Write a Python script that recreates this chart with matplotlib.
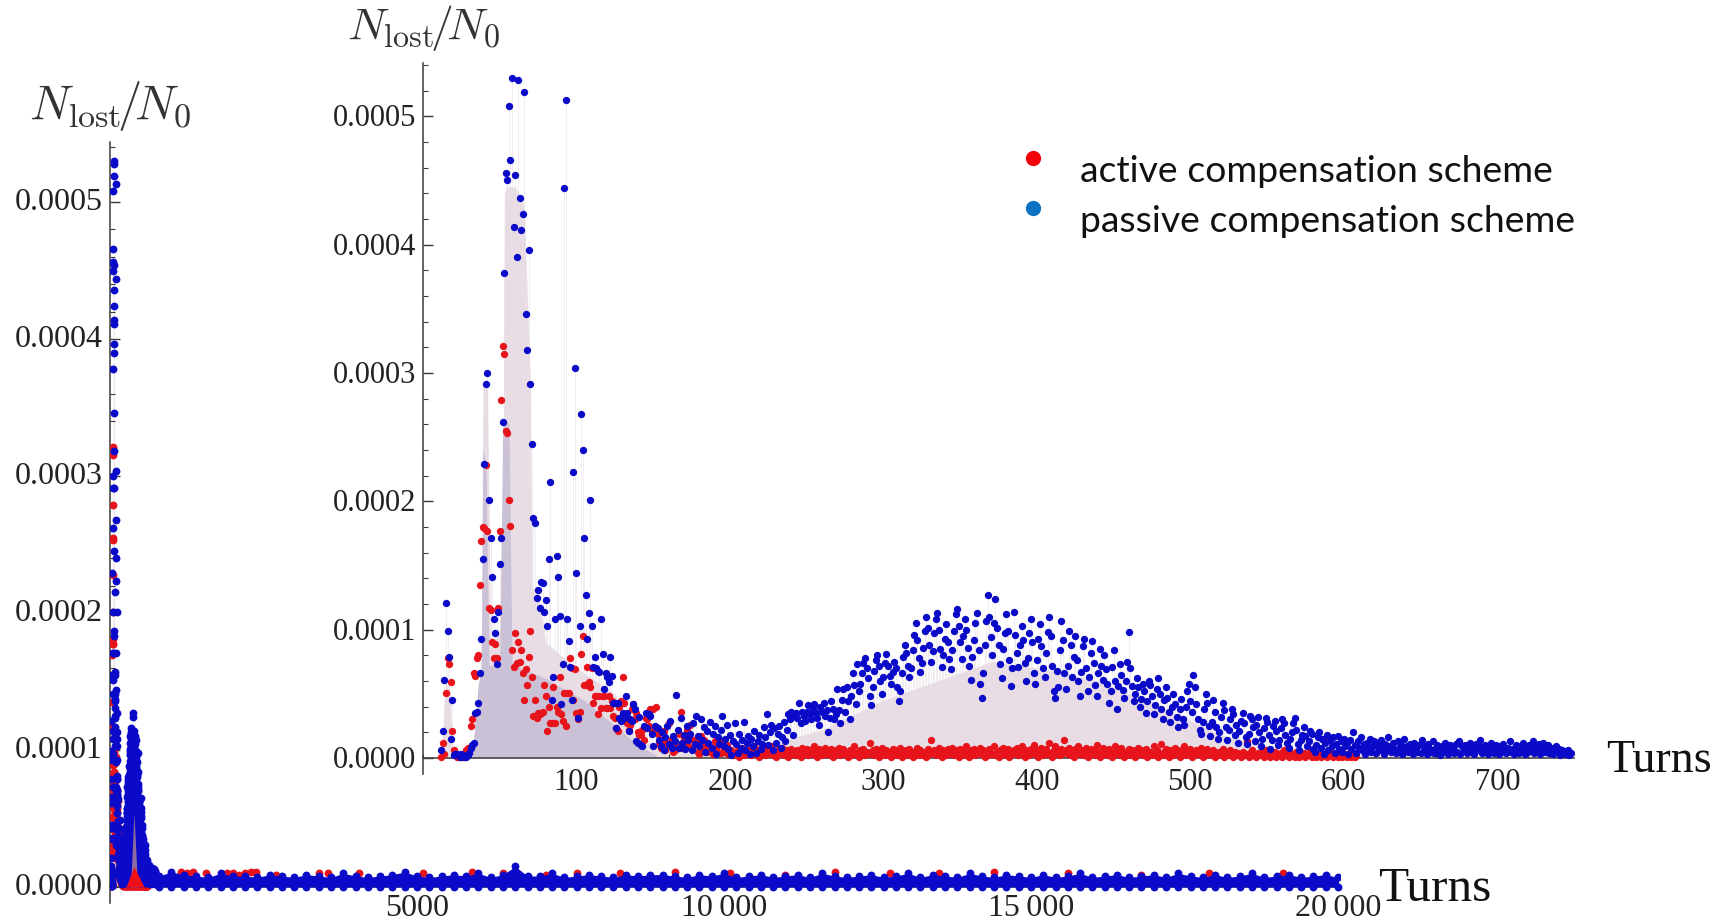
import matplotlib
matplotlib.use("Agg")
import matplotlib.pyplot as plt
import numpy as np
from matplotlib.lines import Line2D
from matplotlib.ticker import MultipleLocator, FuncFormatter
from matplotlib.transforms import ScaledTranslation

W, H = 1729, 921
plt.rcParams['font.family'] = ['Liberation Serif', 'DejaVu Serif']
plt.rcParams['mathtext.fontset'] = 'cm'

FIRST_TURN = 12
# loss fractions per turn in units of 1e-6, first turn = 12
blue_vals = [6,21,61,121,99,79,15,45,
 2,3,3,2,1,3,2,1,1,2,4,8,10,12,35,36,43,66,93,155,
 229,291,300,201,171,141,108,97,73,114,
 151,171,262,378,456,450,508,466,530,414,
 454,390,528,436,411,424,519,346,318,396,
 291,245,187,183,125,131,117,137,136,114,
 123,103,155,215,45,63,108,157,141,111,
 42,73,444,513,108,91,71,45,223,304,
 144,31,103,268,240,171,127,93,113,201,
 103,71,79,70,68,67,108,81,54,66,
 63,59,79,64,43,43,23,43,31,29,
 35,31,48,35,21,30,29,42,38,13,
 12,32,10,9,25,35,23,34,33,19,
 9,25,24,23,
 14,9,20,6,16,25,11,29,8,17,
 13,49,22,8,31,12,18,7,25,14,
 19,6,27,11,33,17,9,30,14,24,
 5,21,12,28,8,19,25,3,16,11,
 22,33,9,15,26,7,18,2,13,27,
 11,4,19,8,14,28,6,12,17,3,
 15,9,21,4,13,18,7,11,24,16,
 34,10,20,26,6,23,12,19,25,8,
 16,28,13,22,34,30,36,18,33,35,
 31,43,27,36,33,29,36,41,34,30,
 38,42,35,31,26,40,36,43,33,37,
 20,31,44,38,30,34,54,37,27,45,
 54,36,55,44,30,48,66,57,42,73,
 52,58,66,74,78,70,62,48,41,55,
 68,76,80,72,60,50,63,74,81,72,
 64,58,67,75,70,55,44,52,66,79,
 88,82,72,63,70,84,96,105,92,78,
 67,74,86,99,110,101,88,75,83,97,
 108,113,100,85,71,80,93,104,90,77,
 69,84,99,112,116,103,90,77,95,108,
 100,86,72,61,79,92,105,113,84,58,
 47,66,88,107,127,110,94,80,105,124,
 101,88,73,62,85,97,112,99,76,56,
 70,114,96,82,71,88,103,92,74,60,
 78,97,108,90,66,58,76,93,104,87,
 70,63,82,98,110,95,72,52,47,68,
 55,84,107,92,66,54,72,99,88,63,
 79,95,76,60,48,67,87,93,70,52,
 63,82,91,74,57,48,66,85,72,61,
 80,69,58,43,52,71,84,60,38,56,
 73,65,53,47,60,75,98,70,56,44,
 50,62,55,40,46,58,52,35,44,60,
 57,48,34,41,54,62,50,38,30,45,
 55,47,36,28,40,50,42,32,24,38,
 46,30,26,40,52,58,44,36,65,55,
 42,30,22,19,28,38,50,43,25,17,
 28,45,36,24,15,20,32,43,37,24,
 14,22,30,38,34,18,26,12,21,29,
 35,27,16,11,19,33,30,24,13,26,
 32,20,9,15,23,31,28,18,7,14,
 25,29,21,10,14,23,30,27,18,12,
 8,15,20,27,31,22,11,6,14,18,
 24,17,9,13,21,19,7,5,10,16,
 20,8,15,3,12,18,6,14,9,16,
 4,11,17,7,13,5,15,9,12,3,
 14,7,20,10,4,13,8,16,6,11,
 3,12,7,15,5,9,13,4,10,6,
 14,8,3,11,6,16,9,5,12,7,
 4,13,8,10,3,15,6,9,5,11,
 7,3,12,8,5,10,4,14,6,9,
 3,11,7,5,13,4,8,10,6,2,
 9,5,12,7,3,10,6,8,4,11,
 5,13,3,9,6,10,4,7,12,5,
 8,3,11,6,9,14,4,7,10,5,
 3,8,12,6,4,10,7,3,9,5,
 11,6,4,8,13,5,7,3,10,6,
 4,9,6,12,3,8,5,10,7,13,
 4,9,6,11,3,8,12,5,7,10,
 4,8,3,6,9,5,7,2,6,4,
 5,3,6,2,4]

red_vals = [1,12,3,51,78,73,59,21,6,4,1,1,1,2,1,2,6,8,5,25,30,66,64,78,80,135,169,180,179,228,
 177,117,115,90,78,89,78,117,177,279,321,315,255,253,201,181,84,71,97,74,90,75,84,66,45,69,57,79,99,63,
 33,45,31,35,34,35,36,57,48,21,40,27,27,55,27,40,36,63,34,29,51,25,51,51,78,70,45,69,35,30,
 36,81,95,57,57,71,59,55,70,43,48,48,34,48,39,48,48,39,39,48,39,44,33,31,23,21,40,44,63,43,
 30,27,22,26,38,42,30,35,20,18,18,22,14,31,30,25,38,20,38,24,40,19,
 11,8,14,21,6,12,27,9,15,5,
 6,12,9,19,36,8,15,12,22,9,
 26,7,14,12,13,5,3,17,8,14,
 9,5,11,9,6,3,13,7,10,13,
 4,13,8,5,10,3,3,6,2,4,
 3,6,1,5,8,2,4,7,3,6,
 2,5,9,3,6,1,4,8,5,2,
 7,3,6,9,2,5,1,4,7,3,
 8,2,5,6,1,4,7,3,5,2,
 6,4,1,8,3,5,7,2,4,6,
 3,9,5,1,7,4,2,6,8,3,
 5,2,7,1,4,6,3,8,2,5,
 7,3,4,1,6,2,5,9,3,4,
 1,6,3,7,2,5,4,12,3,6,
 2,7,4,1,5,8,3,2,6,4,
 5,1,7,3,6,2,4,8,1,5,
 3,6,2,7,4,1,5,3,8,2,
 6,4,2,5,1,7,3,14,4,6,
 2,5,8,3,1,6,4,2,7,3,
 5,8,2,4,6,1,7,3,5,2,
 9,4,1,6,3,7,2,5,4,8,
 3,6,1,5,2,7,4,3,9,2,
 5,1,6,3,8,4,2,7,1,5,
 3,6,4,8,2,5,9,3,1,6,
 4,2,7,5,10,3,6,1,4,8,
 2,5,7,3,12,4,1,6,9,3,
 5,2,7,4,14,6,3,8,2,5,
 1,7,4,9,3,6,2,5,8,1,
 4,7,3,6,2,10,5,1,4,8,
 3,6,2,7,5,1,4,9,3,6,
 2,8,4,1,5,3,7,2,6,4,
 1,5,8,3,6,2,4,7,1,3,
 5,2,9,4,6,1,3,11,2,5,
 7,3,1,6,4,2,8,5,3,1,
 6,4,9,2,5,3,7,1,4,2,
 6,3,5,8,1,4,2,7,3,5,
 2,6,1,4,3,5,2,7,1,3,
 4,2,6,3,1,5,2,4,3,1,
 5,2,3,13,1,4,6,2,3,1,
 4,2,5,3,1,6,2,4,1,3,
 2,5,1,3,2,4,1,6,2,3,
 1,4,2,3,1,5,2,1,3,2,
 4,1,3,2,5,1,2,4,1,3,
 2,1,3,2,14,1,3,2,4,1,
 2,3,1,4,2,1,3,2,1,3,
 2,1,3,1,2]

# pale filling below the blue series (turn, 1e-6)
fill_blue_x = [12,14,15,18,19,20,33,36,38,39,42,44,50,52,53,55,60,66,70,71,74,80,100,125,140,200,230,260,300,340,370,400,440,480,520,560,600,750]
fill_blue_y = [0,45,60,50,0,0,0,55,75,290,295,85,100,110,440,445,445,430,291,130,135,90,70,50,12,8,12,22,45,62,75,70,60,40,18,6,3,1]
# darker overlap of the two fillings
fill_both_x = [32,36,38,39,41,43,50,52,56,58,64,80,105,125,140,152]
fill_both_y = [0,58,68,240,230,72,72,265,260,75,70,62,45,25,10,2]
# turns past the inset range on the long view, one sample every 200 turns (1e-6)
tail_start, tail_step = 800, 200
tail_blue = [8,11,9,8,7,10,8,8,7,9,8,7,9,8,7,10,8,7,8,9,
 11,8,7,8,9,8,10,7,9,15,8,8,10,7,8,9,8,7,9,8,
 9,9,8,7,9,8,10,7,8,9,7,8,9,7,10,8,7,8,9,7,
 8,10,7,9,8,7,10,8,7,9,8,7,9,7,8,10,7,8,9,7,
 8,9,7,10,8,7,9,7,8,10,7,8,9,7,8,9,7]
tail_red_x = [1150,1250,1350,1560,1900,2000,2100,2200,2300,2380,2700,3400,3550,4050,4800,5100,5900,6400,7100,7600,8300,9200,10100,11000,11800,12700,13500,14400,15600,16800,17900,19100]
tail_red_y = [11,10,11,10,10,10,9,10,11,11,9,10,10,10,9,10,11,10,9,10,10,11,10,9,11,10,10,11,10,9,10,10]
# overlap wedge at the base of the 400-turn hump on the long view
wedge_x = [260,390,555]
wedge_y = [0,15,0]
spire_x = [335,390,450]
spire_y = [0,54,0]

y_ticks = [0,100,200,300,400,500]
inset_xticks = [100,200,300,400,500,600,700]
main_xticks = [5000,10000,15000,20000]
main_xlabels = ['5000','10\u2009000','15\u2009000','20\u2009000']
legend_labels = ['active compensation scheme','passive compensation scheme']

BLUE, RED = '#0a0ac8', '#e8141c'
PINK, LILAC = '#e9dee5', '#cbc1d6'
LINE = '#3a3a3a'

fig = plt.figure(figsize=(W/100, H/100), dpi=100, facecolor='white')

def make_axes(l, r, t, b):
    ax = fig.add_axes([l/W, 1-b/H, (r-l)/W, (b-t)/H], facecolor='none')
    for s in ['top','right']:
        ax.spines[s].set_visible(False)
    ax.spines['bottom'].set_position(('data',0))
    for s in ['left','bottom']:
        ax.spines[s].set_color(LINE)
        ax.spines[s].set_linewidth(1.1)
    return ax

x = np.arange(len(blue_vals)) + FIRST_TURN
xr = np.arange(len(red_vals)) + FIRST_TURN
by = np.array(blue_vals)
ry = np.array(red_vals)

def common(ax, ysize, up_px):
    ax.yaxis.set_major_locator(plt.FixedLocator(y_ticks))
    ax.yaxis.set_minor_locator(MultipleLocator(20))
    ax.yaxis.set_major_formatter(FuncFormatter(lambda v, p: f'{v*1e-6:.4f}'))
    ax.tick_params(axis='y', which='major', direction='in', length=7, width=1, color=LINE, labelsize=ysize, pad=5, labelcolor='#222222')
    ax.tick_params(axis='y', which='minor', direction='in', length=3.5, width=0.8, color=LINE)
    ax.tick_params(axis='x', which='major', direction='in', length=6, width=1, color=LINE, labelsize=22, pad=7, labelcolor='#222222')
    ax.tick_params(axis='x', which='minor', direction='in', length=3, width=0.8, color=LINE)
    for lab in ax.get_yticklabels():
        lab.set_transform(lab.get_transform() + ScaledTranslation(0, up_px/100, fig.dpi_scale_trans))

# ---------- long view ----------
ax = make_axes(110, 1340, 142, 903)
ax.set_xlim(0, 20033)
ax.set_ylim(-11.7, 543.8)
common(ax, 23, 3)
ax.set_xticks(main_xticks)
ax.set_xticklabels(main_xlabels)
ax.xaxis.set_minor_locator(MultipleLocator(1000))
ax.tick_params(axis='x', labelsize=23, pad=5)
ax.fill_between(fill_blue_x, 0, fill_blue_y, color=PINK, lw=0, zorder=1)
ax.scatter(xr, ry, s=32, color=RED, lw=0, zorder=3)
ax.scatter(tail_red_x, tail_red_y, s=32, color=RED, lw=0, zorder=3)
tx = tail_start + tail_step*np.arange(len(tail_blue))
tx_full = np.concatenate([x[-20:], tx])
ty_full = np.concatenate([by[-20:], tail_blue])
ax.fill_between(tx_full, 0, ty_full, color=BLUE, lw=0, zorder=4)
ax.scatter(tx, tail_blue, s=32, color=BLUE, lw=0, zorder=4)
ax.scatter(tx, np.zeros(len(tx)), s=32, color=BLUE, lw=0, zorder=4, clip_on=False)
ax.scatter(x, by, s=32, color=BLUE, lw=0, zorder=4)
ax.fill_between(x, 0, np.where(np.abs(x-390) < 170, by*0.9, 0), color=BLUE, lw=0, zorder=4)
ax.fill_between(spire_x, 0, spire_y, color='#8d6b9f', lw=0, zorder=5)
ax.fill_between(wedge_x, 0, wedge_y, color='#f0101a', lw=0, zorder=6)

# ---------- inset ----------
ai = make_axes(423, 1574, 63, 774)
ai.set_xlim(0, 750)
ai.set_ylim(-12.5, 541.5)
common(ai, 22, 1)
ai.set_xticks(inset_xticks)
ai.xaxis.set_minor_locator(MultipleLocator(20))
ai.fill_between(fill_blue_x, 0, fill_blue_y, color=PINK, lw=0, zorder=1)
ai.fill_between(fill_both_x, 0, fill_both_y, color=LILAC, lw=0, zorder=2)
ai.vlines(x, 0, by, color='#e6dce4', lw=0.6, alpha=0.6, zorder=1.5)
ai.scatter(xr, ry, s=28, color=RED, lw=0, zorder=3)
ai.scatter(x, by, s=28, color=BLUE, lw=0, zorder=4)

# ---------- texts ----------
def ptext(px, py, s, **kw):
    kw.setdefault('ha','left'); kw.setdefault('va','center')
    return fig.text(px/W, 1-py/H, s, **kw)

ptext(347, 28, r'$N_{\mathrm{lost}}\!/\!N_0$', fontsize=33, color='#333333')
ptext(29, 106, r'$N_{\mathrm{lost}}\!/\!N_0$', fontsize=35, color='#333333')
ptext(1606, 761, 'Turns', fontsize=33, color='#111111')
ptext(1378, 889, 'Turns', fontsize=35.5, color='#111111')
for py, col in zip([158, 208], ['#f40009', '#0b72c4']):
    fig.add_artist(Line2D([1033/W], [1-py/H], marker='o', ms=11, color=col, mew=0, ls='none', transform=fig.transFigure))
for py, lab in zip([171, 221], legend_labels):
    ptext(1080, py, lab, fontsize=26.9, family='Lato', color='#111111')

fig.savefig('out.png', dpi=100, facecolor='white')
